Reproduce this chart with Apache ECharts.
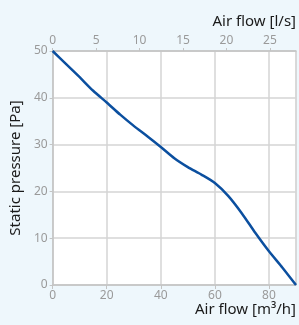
<!DOCTYPE html>
<html>
<head>
<meta charset="utf-8">
<script src="https://cdn.jsdelivr.net/npm/echarts@6/dist/echarts.min.js"></script>
<style>
  html, body { margin: 0; padding: 0; background: #eef7fc; }
  #chart { width: 299px; height: 325px; }
</style>
</head>
<body>
<div id="chart"></div>
<script>
// air flow in m3/h, static pressure in Pa
const flow = [0, 5, 10, 15, 20, 25, 30, 35, 40, 45, 50, 55, 60, 65, 70, 75, 80, 85, 90];
const pressure = [50, 47.2, 44.4, 41.5, 39, 36.4, 34, 31.8, 29.5, 27.1, 25.2, 23.6, 21.8, 19, 15.3, 11.1, 7.2, 3.7, 0];

const FONT = '"Noto Sans", sans-serif';
const LABEL = { color: '#9a9a9a', fontSize: 12, fontFamily: FONT };
const NAME = { color: '#1a1a1a', fontSize: 15, fontFamily: FONT };

const chart = echarts.init(document.getElementById('chart'));
chart.setOption({
    backgroundColor: '#eef7fc',
    animation: false,
    grid: { left: 52, right: 3, top: 51, bottom: 40, show: true, backgroundColor: '#fff', borderColor: '#cfcfcf', borderWidth: 1 },
    xAxis: [
        {
            type: 'value', position: 'bottom', min: 0, max: 90, interval: 20,
            name: 'Air flow [m³/h]', nameLocation: 'end', nameGap: 0,
            nameTextStyle: Object.assign({ align: 'right', verticalAlign: 'top', padding: [17, 0, 0, 0] }, NAME),
            axisLine: { lineStyle: { color: '#c4c4c4', width: 1.5 } },
            axisTick: { show: true, length: 4, lineStyle: { color: '#c4c4c4' } },
            axisLabel: Object.assign({ margin: 5, showMaxLabel: false }, LABEL),
            splitLine: { lineStyle: { color: '#d4d4d4', width: 1.5 } }
        },
        {
            type: 'value', position: 'top', min: 0, max: 28, interval: 5,
            name: 'Air flow [l/s]', nameLocation: 'end', nameGap: 0,
            nameTextStyle: Object.assign({ align: 'right', verticalAlign: 'bottom', padding: [0, 0, 22, 0] }, NAME),
            axisLine: { lineStyle: { color: '#c4c4c4', width: 1.5 } },
            axisTick: { show: true, length: 3, lineStyle: { color: '#c4c4c4' } },
            axisLabel: Object.assign({ margin: 4, showMaxLabel: false }, LABEL),
            splitLine: { show: false }
        }
    ],
    yAxis: {
        type: 'value', min: 0, max: 50, interval: 10,
        name: 'Static pressure [Pa]', nameLocation: 'middle', nameGap: 26,
        nameTextStyle: NAME,
        axisLine: { show: true, lineStyle: { color: '#c4c4c4', width: 1.5 } },
        axisTick: { show: true, length: 3, lineStyle: { color: '#c4c4c4' } },
        axisLabel: Object.assign({ margin: 5 }, LABEL),
        splitLine: { lineStyle: { color: '#d4d4d4', width: 1.5 } }
    },
    series: [{
        type: 'line',
        xAxisIndex: 0,
        data: flow.map((f, i) => [f, pressure[i]]),
        smooth: 0.25,
        symbol: 'none',
        lineStyle: { color: '#0b4f9f', width: 2.5 }
    }]
});
</script>
</body>
</html>
